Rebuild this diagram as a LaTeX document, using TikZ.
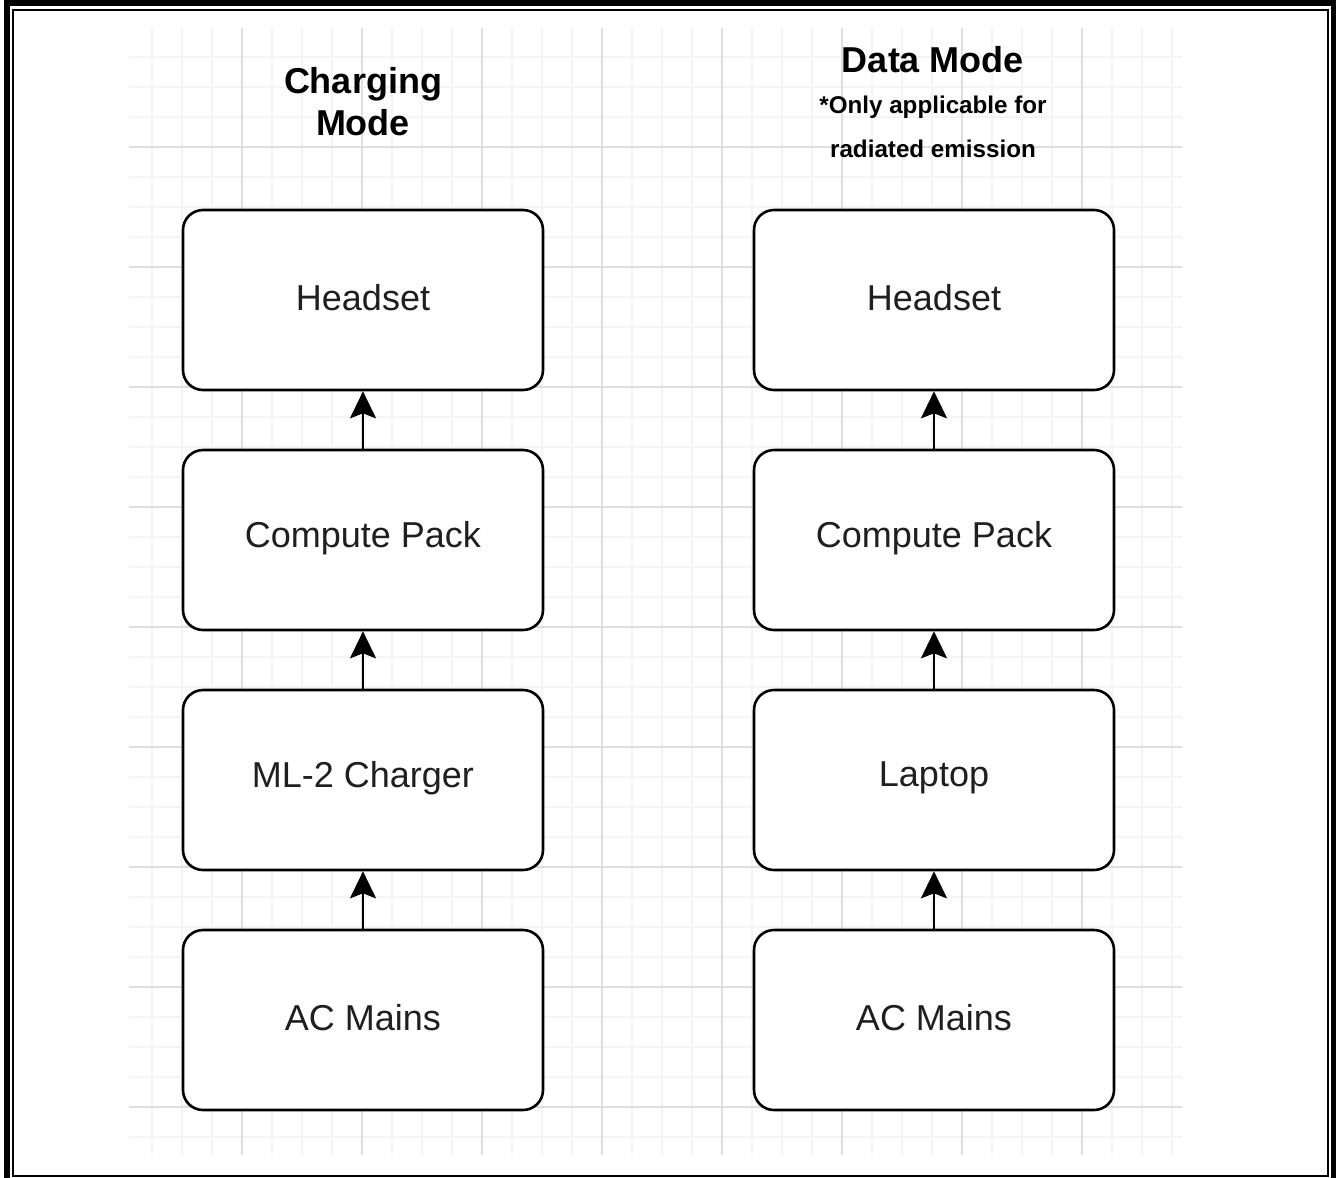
\documentclass[tikz,border=0pt]{standalone}
\usepackage{fontspec}
\setmainfont{Liberation Sans}
\usetikzlibrary{arrows.meta}
\definecolor{gridminor}{HTML}{F4F4F4}
\definecolor{gridmajor}{HTML}{DEDEDE}
\tikzset{
  blockbox/.style={draw=black, line width=2.6pt, rounded corners=20pt, fill=white,
    minimum width=360pt, minimum height=180pt, inner sep=0pt, text=black!88},
  blocklabel/.style={font=\fontsize{36}{40}\selectfont, inner sep=0pt, text=black!88},
  flowarrow/.style={draw=black, line width=2.6pt, -{Stealth[length=27pt, width=26pt, inset=5pt]}},
  titletext/.style={font=\bfseries\fontsize{36}{42}\selectfont, align=center, inner sep=0pt},
  subtext/.style={font=\bfseries\fontsize{24.2}{44}\selectfont, align=center, inner sep=0pt}
}
\begin{document}
\begin{tikzpicture}[x=1pt, y=-1pt]
\useasboundingbox (0,0) rectangle (1336,1178);
\fill[white] (0,0) rectangle (1336,1178);
% grid
\begin{scope}
\clip (129,28) rectangle (1182,1155);
\foreach \gx in {152,182,...,1182} \draw[gridminor, line width=2pt] (\gx,28) -- (\gx,1155);
\foreach \gy in {57,87,...,1155} \draw[gridminor, line width=2pt] (129,\gy) -- (1182,\gy);
\foreach \gx in {242,362,...,1182} \draw[gridmajor, line width=2pt] (\gx,28) -- (\gx,1155);
\foreach \gy in {27,147,...,1155} \draw[gridmajor, line width=2pt] (129,\gy) -- (1182,\gy);
\end{scope}
% frame
\draw[black, line width=6.5pt] (7,3) rectangle (1334,1181);
\draw[black, line width=2pt] (13,9.5) rectangle (1327.5,1176);
% titles
\node[titletext] (t1) at (363,102) {Charging\\Mode};
\node[titletext] (t2) at (933,60) {Data Mode};
\node[subtext] (t3) at (933,127) {*Only applicable for\\radiated emission};
% left column
\node[blockbox] (h1) at (363,300) {};
\node[blockbox] (c1) at (363,540) {};
\node[blockbox] (m1) at (363,780) {};
\node[blockbox] (a1) at (363,1020) {};
% right column
\node[blockbox] (h2) at (934,300) {};
\node[blockbox] (c2) at (934,540) {};
\node[blockbox] (l2) at (934,780) {};
\node[blockbox] (a2) at (934,1020) {};
% labels
\node[blocklabel] (lh1) at ([yshift=2pt]h1.center) {Headset};
\node[blocklabel] (lc1) at ([yshift=2pt]c1.center) {Compute Pack};
\node[blocklabel] (lm1) at ([yshift=2pt]m1.center) {ML-2 Charger};
\node[blocklabel] (la1) at ([yshift=2pt]a1.center) {AC Mains};
\node[blocklabel] (lh2) at ([yshift=2pt]h2.center) {Headset};
\node[blocklabel] (lc2) at ([yshift=2pt]c2.center) {Compute Pack};
\node[blocklabel] (ll2) at ([yshift=2pt]l2.center) {Laptop};
\node[blocklabel] (la2) at ([yshift=2pt]a2.center) {AC Mains};
% arrows
\draw[flowarrow] (c1.north) -- (h1.south);
\draw[flowarrow] (m1.north) -- (c1.south);
\draw[flowarrow] (a1.north) -- (m1.south);
\draw[flowarrow] (c2.north) -- (h2.south);
\draw[flowarrow] (l2.north) -- (c2.south);
\draw[flowarrow] (a2.north) -- (l2.south);
\end{tikzpicture}
\end{document}
